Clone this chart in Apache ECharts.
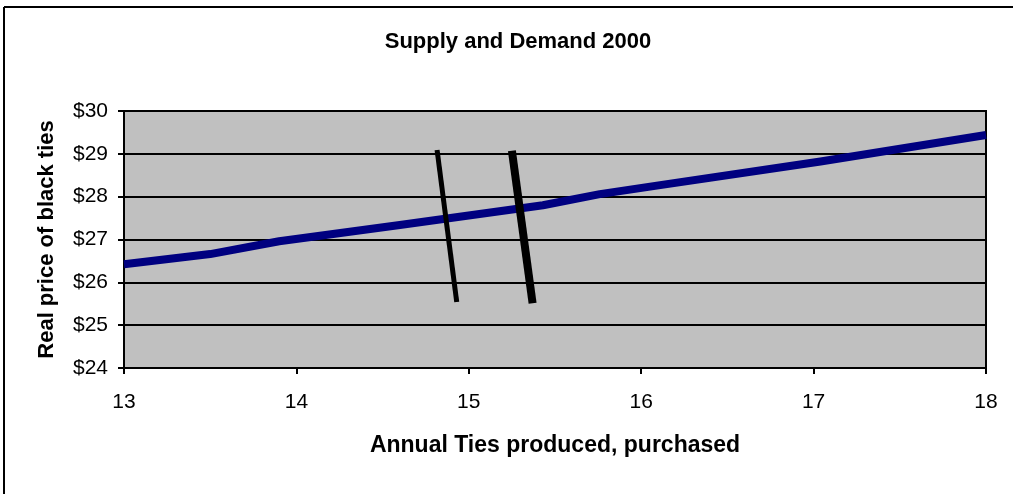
<!DOCTYPE html>
<html>
<head>
<meta charset="utf-8">
<script src="https://cdn.jsdelivr.net/npm/echarts@6/dist/echarts.min.js"></script>
<style>
  html, body { margin: 0; padding: 0; background: #fff; overflow: hidden; }
  #chart { width: 1013px; height: 494px; }
</style>
</head>
<body>
<div id="chart"></div>
<script>
// Supply curve: annual ties vs. real price
const supplyQty   = [13.0, 13.5, 13.9, 14.6, 15.43, 15.76, 16.11, 17.04, 18.0];
const supplyPrice = [26.42, 26.66, 26.96, 27.34, 27.80, 28.06, 28.27, 28.82, 29.44];

// Two demand curves (before / after shift)
const demandAQty   = [14.816, 14.93];
const demandAPrice = [29.09, 25.54];
const demandBQty   = [15.25, 15.37];
const demandBPrice = [29.07, 25.51];

const FONT = "'Liberation Sans', Arial, sans-serif";

const pairs = (xs, ys) => xs.map((x, i) => [x, ys[i]]);

const chart = echarts.init(document.getElementById('chart'), null, { renderer: 'canvas' });

chart.setOption({
  animation: false,
  backgroundColor: '#ffffff',
  title: {
    text: 'Supply and Demand 2000',
    left: 513,
    top: 26,
    textAlign: 'center',
    textStyle: { fontFamily: FONT, fontSize: 22, fontWeight: 'bold', color: '#000' }
  },
  // chart-area frame: top and left edges
  graphic: [
    {
      type: 'line',
      shape: { x1: 4, y1: 7, x2: 1013, y2: 7 },
      style: { stroke: '#000', lineWidth: 2 },
      silent: true
    },
    {
      type: 'line',
      shape: { x1: 4, y1: 7, x2: 4, y2: 494 },
      style: { stroke: '#000', lineWidth: 2 },
      silent: true
    }
  ],
  grid: {
    left: 124, right: 27, top: 111, bottom: 126,
    show: true,
    backgroundColor: '#c0c0c0',
    borderColor: '#000',
    borderWidth: 2
  },
  xAxis: {
    type: 'value',
    min: 13, max: 18, interval: 1,
    name: 'Annual Ties produced, purchased',
    nameLocation: 'middle',
    nameGap: 66,
    nameTextStyle: { fontFamily: FONT, fontSize: 23, fontWeight: 'bold', color: '#000' },
    axisLine: { show: true, onZero: false, lineStyle: { color: '#000', width: 2 } },
    axisTick: { show: true, length: 6, lineStyle: { color: '#000', width: 2 } },
    axisLabel: { margin: 24, fontFamily: FONT, fontSize: 21, color: '#000' },
    splitLine: { show: false }
  },
  yAxis: {
    type: 'value',
    min: 24, max: 30, interval: 1,
    name: 'Real price of black ties',
    nameLocation: 'middle',
    nameGap: 66,
    nameTextStyle: { fontFamily: FONT, fontSize: 22, fontWeight: 'bold', color: '#000' },
    axisLine: { show: true, onZero: false, lineStyle: { color: '#000', width: 2 } },
    axisTick: { show: true, length: 6, lineStyle: { color: '#000', width: 2 } },
    axisLabel: {
      margin: 16, fontFamily: FONT, fontSize: 21, color: '#000',
      formatter: v => '$' + v
    },
    splitLine: { show: true, lineStyle: { color: '#000', width: 2 } }
  },
  series: [
    {
      name: 'Supply',
      type: 'line',
      data: pairs(supplyQty, supplyPrice),
      showSymbol: false,
      lineStyle: { color: '#000080', width: 8, cap: 'butt', join: 'round' }
    },
    {
      name: 'Demand 1',
      type: 'line',
      data: pairs(demandAQty, demandAPrice),
      showSymbol: false,
      lineStyle: { color: '#000', width: 5, cap: 'butt' }
    },
    {
      name: 'Demand 2',
      type: 'line',
      data: pairs(demandBQty, demandBPrice),
      showSymbol: false,
      lineStyle: { color: '#000', width: 8, cap: 'butt' }
    }
  ]
});
</script>
</body>
</html>
